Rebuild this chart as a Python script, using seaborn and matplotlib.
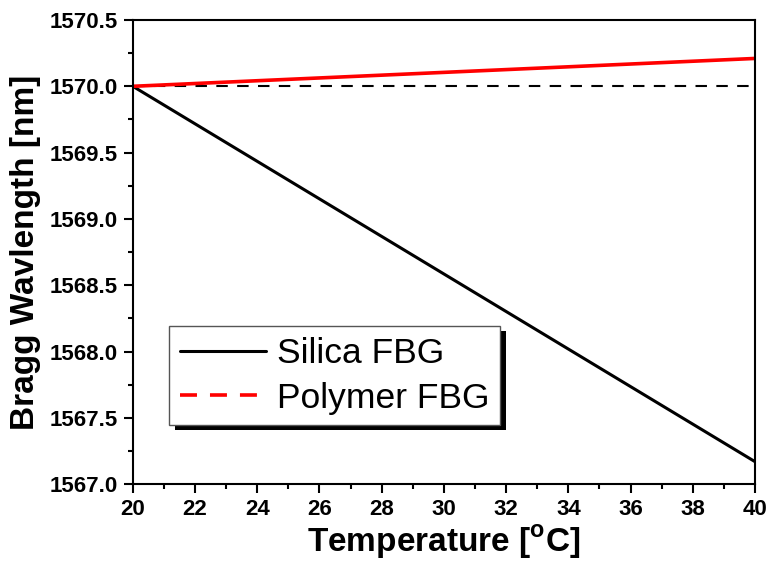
import matplotlib
matplotlib.use("Agg")
import matplotlib.pyplot as plt
import matplotlib.patches as mpatches
from matplotlib.lines import Line2D
from matplotlib.ticker import MultipleLocator, FormatStrFormatter
import pandas as pd
import seaborn as sns

# Bragg wavelength vs. temperature for the two gratings
temperature = [20, 40]
silica_fbg = [1570.0, 1567.17]
polymer_fbg = [1570.0, 1570.21]
reference_level = [1570.0, 1570.0]

series_labels = ["Silica FBG", "Polymer FBG"]

sns.set_style("ticks")
plt.rcParams["font.family"] = ["Liberation Sans", "DejaVu Sans"]
plt.rcParams["mathtext.fontset"] = "custom"
plt.rcParams["mathtext.rm"] = "Liberation Sans:bold"
plt.rcParams["mathtext.bf"] = "Liberation Sans:bold"
for key in ["text.color", "axes.labelcolor", "xtick.color", "ytick.color",
            "axes.edgecolor"]:
    plt.rcParams[key] = "black"

df = pd.DataFrame({
    "T": temperature,
    "silica": silica_fbg,
    "polymer": polymer_fbg,
    "ref": reference_level,
})

fig = plt.figure(figsize=(7.68, 5.63), dpi=100)
ax = fig.add_axes([0.173, 0.140, 0.810, 0.8245])

sns.lineplot(data=df, x="T", y="ref", ax=ax, color="black", lw=1.5,
             dashes=False, linestyle=(0, (5.5, 4.5)))
sns.lineplot(data=df, x="T", y="silica", ax=ax, color="black", lw=2.2)
sns.lineplot(data=df, x="T", y="polymer", ax=ax, color="#ff0000", lw=2.6)

ax.set_xlim(20, 40)
ax.set_ylim(1567.0, 1570.5)
ax.xaxis.set_major_locator(MultipleLocator(2))
ax.xaxis.set_minor_locator(MultipleLocator(1))
ax.yaxis.set_major_locator(MultipleLocator(0.5))
ax.yaxis.set_minor_locator(MultipleLocator(0.25))
ax.yaxis.set_major_formatter(FormatStrFormatter("%.1f"))

for s in ax.spines.values():
    s.set_linewidth(1.5)
    s.set_color("black")

ax.tick_params(axis="both", which="major", direction="out", length=6.5,
               width=1.5, labelsize=16, pad=4.5, top=False, right=False,
               colors="black")
ax.tick_params(axis="both", which="minor", direction="out", length=3.5,
               width=1.5, top=False, right=False, colors="black")
for lab in ax.get_xticklabels() + ax.get_yticklabels():
    lab.set_fontweight("bold")

ax.set_xlabel("Temperature [$^{\\mathrm{o}}$C]", fontsize=24,
              fontweight="bold", labelpad=2, color="black")
ax.set_ylabel("Bragg Wavlength [nm]", fontsize=24, fontweight="bold",
              labelpad=6, color="black")

handles = [
    Line2D([], [], color="black", lw=2.2),
    Line2D([], [], color="#ff0000", lw=2.6, linestyle=(0, (4.7, 3.6))),
]
leg = ax.legend(handles, series_labels, loc="upper left",
                bbox_to_anchor=(0.058, 0.340), frameon=True, fancybox=False,
                fontsize=25.5, handlelength=2.45, handletextpad=0.3,
                borderpad=0.3, labelspacing=0.33, borderaxespad=0)
for t in leg.get_texts():
    t.set_color("black")
frame = leg.get_frame()
frame.set_edgecolor("#555555")
frame.set_linewidth(1.0)
frame.set_facecolor("white")
frame.set_alpha(1)
leg.set_zorder(5)

# solid drop shadow behind the legend box
fig.canvas.draw()
bb = leg.get_window_extent()
inv = fig.transFigure.inverted()
(x0, y0), (x1, y1) = inv.transform([[bb.x0 + 6, bb.y0 - 5], [bb.x1 + 6, bb.y1 - 5]])
shadow = mpatches.Rectangle((x0, y0), x1 - x0, y1 - y0, transform=fig.transFigure,
                            facecolor="black", edgecolor="none", zorder=4)
ax.add_artist(shadow)

fig.savefig("out.png", dpi=100)
